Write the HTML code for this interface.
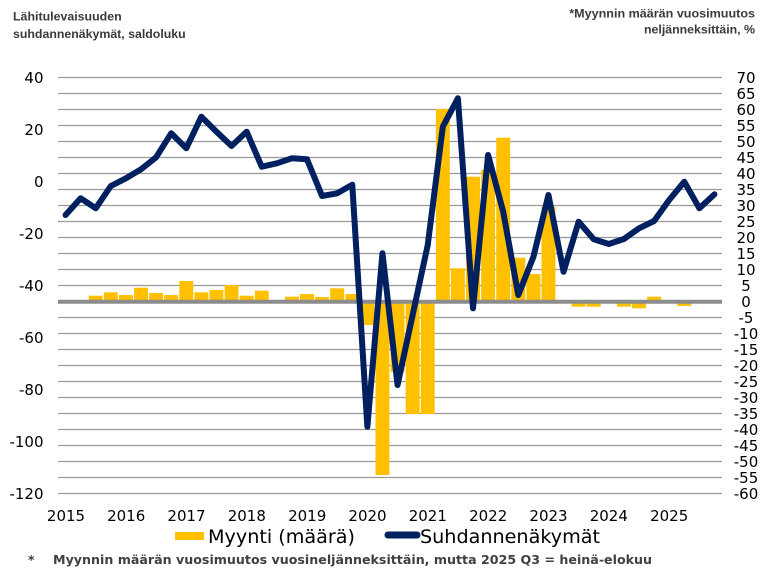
<!DOCTYPE html>
<html>
<head>
<meta charset="utf-8">
<style>
  html,body{margin:0;padding:0;background:#fff;}
  svg{display:block;}
  .ax{font-family:"DejaVu Sans","Liberation Sans",sans-serif;font-size:15px;fill:#000;}
  .ttl{font-family:"Liberation Sans",sans-serif;font-weight:bold;font-size:12px;fill:#3a3a3a;}
  .leg{font-family:"DejaVu Sans","Liberation Sans",sans-serif;font-size:19px;fill:#000;}
  .fn{font-family:"DejaVu Sans","Liberation Sans",sans-serif;font-weight:bold;font-size:12.5px;fill:#404040;}
</style>
</head>
<body>
<svg width="774" height="569" viewBox="0 0 774 569" xmlns="http://www.w3.org/2000/svg">
  <rect width="774" height="569" fill="#fff"/>

  <!-- titles -->
  <text class="ttl" x="13" y="20.5" textLength="108.7" lengthAdjust="spacingAndGlyphs">Lähitulevaisuuden</text>
  <text class="ttl" x="13" y="38" textLength="172.7" lengthAdjust="spacingAndGlyphs">suhdannenäkymät, saldoluku</text>
  <text class="ttl" x="569.3" y="17.3" textLength="185.7" lengthAdjust="spacingAndGlyphs">*Myynnin määrän vuosimuutos</text>
  <text class="ttl" x="644" y="33.5" textLength="111" lengthAdjust="spacingAndGlyphs">neljänneksittäin, %</text>

  <!-- gridlines -->
  <g stroke="#9a9a9a" stroke-width="1.2">
    <line x1="58" x2="722" y1="77.5" y2="77.5"/>
    <line x1="58" x2="722" y1="93.5" y2="93.5"/>
    <line x1="58" x2="722" y1="109.5" y2="109.5"/>
    <line x1="58" x2="722" y1="125.5" y2="125.5"/>
    <line x1="58" x2="722" y1="141.5" y2="141.5"/>
    <line x1="58" x2="722" y1="157.5" y2="157.5"/>
    <line x1="58" x2="722" y1="173.5" y2="173.5"/>
    <line x1="58" x2="722" y1="189.5" y2="189.5"/>
    <line x1="58" x2="722" y1="205.5" y2="205.5"/>
    <line x1="58" x2="722" y1="221.5" y2="221.5"/>
    <line x1="58" x2="722" y1="237.5" y2="237.5"/>
    <line x1="58" x2="722" y1="253.5" y2="253.5"/>
    <line x1="58" x2="722" y1="269.5" y2="269.5"/>
    <line x1="58" x2="722" y1="285.5" y2="285.5"/>
    <line x1="58" x2="722" y1="317.5" y2="317.5"/>
    <line x1="58" x2="722" y1="333.5" y2="333.5"/>
    <line x1="58" x2="722" y1="349.5" y2="349.5"/>
    <line x1="58" x2="722" y1="365.5" y2="365.5"/>
    <line x1="58" x2="722" y1="381.5" y2="381.5"/>
    <line x1="58" x2="722" y1="397.5" y2="397.5"/>
    <line x1="58" x2="722" y1="413.5" y2="413.5"/>
    <line x1="58" x2="722" y1="429.5" y2="429.5"/>
    <line x1="58" x2="722" y1="445.5" y2="445.5"/>
    <line x1="58" x2="722" y1="461.5" y2="461.5"/>
    <line x1="58" x2="722" y1="477.5" y2="477.5"/>
    <line x1="58" x2="722" y1="493.5" y2="493.5"/>
  </g>

  <!-- bars -->
  <g fill="#FFC000">
    <rect x="88.78" y="295.7" width="13.9" height="5.8"/>
    <rect x="103.87" y="292.3" width="13.9" height="9.2"/>
    <rect x="118.96" y="295" width="13.9" height="6.5"/>
    <rect x="134.06" y="287.7" width="13.9" height="13.8"/>
    <rect x="149.15" y="293" width="13.9" height="8.5"/>
    <rect x="164.24" y="295" width="13.9" height="6.5"/>
    <rect x="179.33" y="281" width="13.9" height="20.5"/>
    <rect x="194.42" y="292.3" width="13.9" height="9.2"/>
    <rect x="209.51" y="290" width="13.9" height="11.5"/>
    <rect x="224.60" y="285" width="13.9" height="16.5"/>
    <rect x="239.69" y="295.7" width="13.9" height="5.8"/>
    <rect x="254.78" y="290.7" width="13.9" height="10.8"/>
    <rect x="284.97" y="296.7" width="13.9" height="4.8"/>
    <rect x="300.06" y="294" width="13.9" height="7.5"/>
    <rect x="315.15" y="297" width="13.9" height="4.5"/>
    <rect x="330.24" y="288.3" width="13.9" height="13.2"/>
    <rect x="345.33" y="294" width="13.9" height="7.5"/>
    <rect x="360.42" y="301.5" width="13.9" height="23.5"/>
    <rect x="375.51" y="301.5" width="13.9" height="173.5"/>
    <rect x="390.60" y="301.5" width="13.9" height="70.5"/>
    <rect x="405.69" y="301.5" width="13.9" height="112.5"/>
    <rect x="420.78" y="301.5" width="13.9" height="112.5"/>
    <rect x="435.88" y="109" width="13.9" height="192.5"/>
    <rect x="450.97" y="268.3" width="13.9" height="33.2"/>
    <rect x="466.06" y="176.7" width="13.9" height="124.8"/>
    <rect x="481.15" y="170" width="13.9" height="131.5"/>
    <rect x="496.24" y="137.7" width="13.9" height="163.8"/>
    <rect x="511.33" y="257.7" width="13.9" height="43.8"/>
    <rect x="526.42" y="274" width="13.9" height="27.5"/>
    <rect x="541.51" y="206.7" width="13.9" height="94.8"/>
    <rect x="571.69" y="301.5" width="13.9" height="5.2"/>
    <rect x="586.78" y="301.5" width="13.9" height="5.2"/>
    <rect x="616.97" y="301.5" width="13.9" height="5.2"/>
    <rect x="632.06" y="301.5" width="13.9" height="6.8"/>
    <rect x="647.15" y="296.7" width="13.9" height="4.8"/>
    <rect x="677.33" y="301.5" width="13.9" height="4.5"/>
  </g>

  <!-- zero line (right axis) -->
  <line x1="58" x2="722" y1="301.7" y2="301.7" stroke="#8c8c8c" stroke-width="4"/>

  <!-- line series -->
  <polyline fill="none" stroke="#002060" stroke-width="6" stroke-linejoin="round" stroke-linecap="round"
    points="65.55,215 80.64,198.3 95.73,208.3 110.82,186 125.91,178.3 141.0,169.3 156.09,157.3 171.18,133.3 186.27,148.3 201.36,116.7 216.45,131.7 231.55,146 246.64,131.7 261.73,166.7 276.82,163.3 291.91,158.3 307.0,159.3 322.09,196 337.18,193.3 352.27,184.7 367.36,426.7 382.45,253.3 397.55,385 412.64,315 427.73,245 442.82,126.7 457.91,98.3 473.0,308.3 488.09,155 503.18,211.7 518.27,295 533.36,257 548.45,195 563.55,271.7 578.64,221.7 593.73,239.3 608.82,244 623.91,239 639.0,228.3 654.09,221 669.18,200 684.27,181.7 699.36,208.3 714.45,194.3"/>

  <!-- left axis labels -->
  <g class="ax" text-anchor="end">
    <text x="43.5" y="83">40</text>
    <text x="43.5" y="135">20</text>
    <text x="43.5" y="187">0</text>
    <text x="43.5" y="239">-20</text>
    <text x="43.5" y="291">-40</text>
    <text x="43.5" y="343">-60</text>
    <text x="43.5" y="395">-80</text>
    <text x="43.5" y="447">-100</text>
    <text x="43.5" y="499">-120</text>
  </g>

  <!-- right axis labels -->
  <g class="ax" text-anchor="middle">
    <text x="746" y="83">70</text>
    <text x="746" y="99">65</text>
    <text x="746" y="115">60</text>
    <text x="746" y="131">55</text>
    <text x="746" y="147">50</text>
    <text x="746" y="163">45</text>
    <text x="746" y="179">40</text>
    <text x="746" y="195">35</text>
    <text x="746" y="211">30</text>
    <text x="746" y="227">25</text>
    <text x="746" y="243">20</text>
    <text x="746" y="259">15</text>
    <text x="746" y="275">10</text>
    <text x="746" y="291">5</text>
    <text x="746" y="307">0</text>
    <text x="746" y="323">-5</text>
    <text x="746" y="339">-10</text>
    <text x="746" y="355">-15</text>
    <text x="746" y="371">-20</text>
    <text x="746" y="387">-25</text>
    <text x="746" y="403">-30</text>
    <text x="746" y="419">-35</text>
    <text x="746" y="435">-40</text>
    <text x="746" y="451">-45</text>
    <text x="746" y="467">-50</text>
    <text x="746" y="483">-55</text>
    <text x="746" y="499">-60</text>
  </g>

  <!-- x axis labels -->
  <g class="ax" text-anchor="middle">
    <text x="66" y="521">2015</text>
    <text x="126.2" y="521">2016</text>
    <text x="186.5" y="521">2017</text>
    <text x="246.8" y="521">2018</text>
    <text x="307.2" y="521">2019</text>
    <text x="367.5" y="521">2020</text>
    <text x="427.8" y="521">2021</text>
    <text x="488.2" y="521">2022</text>
    <text x="548.5" y="521">2023</text>
    <text x="608.8" y="521">2024</text>
    <text x="669.2" y="521">2025</text>
  </g>

  <!-- legend -->
  <rect x="175" y="532" width="29" height="8" fill="#FFC000"/>
  <text class="leg" x="208" y="543" textLength="147" lengthAdjust="spacingAndGlyphs">Myynti (määrä)</text>
  <line x1="388" x2="417" y1="535" y2="535" stroke="#002060" stroke-width="7" stroke-linecap="round"/>
  <text class="leg" x="420" y="543" textLength="180" lengthAdjust="spacingAndGlyphs">Suhdannenäkymät</text>

  <!-- footnote -->
  <text class="fn" x="28" y="564">*</text>
  <text class="fn" x="53" y="564" textLength="599" lengthAdjust="spacingAndGlyphs">Myynnin määrän vuosimuutos vuosineljänneksittäin, mutta 2025 Q3 = heinä-elokuu</text>
</svg>
</body>
</html>
